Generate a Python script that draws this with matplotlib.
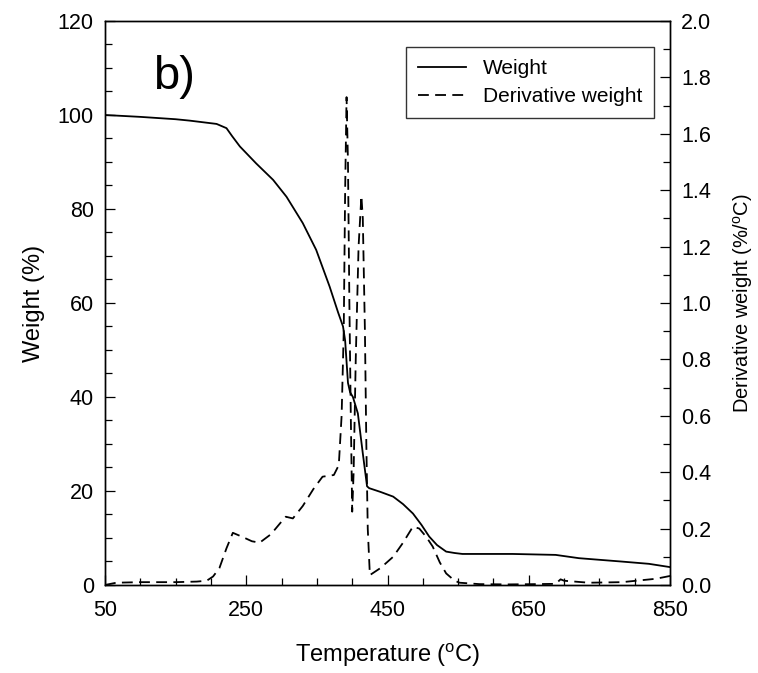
import matplotlib
matplotlib.use('Agg')
import matplotlib.pyplot as plt
from matplotlib.ticker import MultipleLocator
from matplotlib.lines import Line2D

plt.rcParams['font.family'] = ['Liberation Sans', 'DejaVu Sans']
plt.rcParams['mathtext.default'] = 'regular'

# weight curve (% vs temperature)
weight_temp = [50, 100, 150, 170, 208, 222, 230, 241, 264, 288, 307, 330, 349, 368,
               380, 387, 390, 394, 397, 401, 408, 415, 421, 424, 440, 458, 472, 486,
               498, 509, 520, 533, 545, 556, 627, 688, 721, 780, 820, 850]
weight = [100, 99.6, 99.1, 98.8, 98.1, 97.2, 95.5, 93.3, 89.7, 86.2, 82.6, 77, 71.3, 63.5,
          58, 55, 52, 43, 41, 40, 36.5, 28, 21, 20.6, 19.8, 18.8, 17.2, 15.2,
          12.8, 10.3, 8.5, 7.1, 6.8, 6.6, 6.6, 6.4, 5.7, 5.0, 4.5, 3.8]

# derivative weight curve (%/oC vs temperature)
deriv_temp = [50, 66, 100, 150, 180, 194, 203, 212, 222, 231, 245, 258, 269, 285, 300,
              306, 316, 330, 345, 358, 374, 381, 385, 388, 390, 392, 394, 396, 398,
              400, 402, 405, 409, 413, 415, 418, 420, 422, 425, 440, 458, 472, 486,
              495, 505, 514, 524, 533, 545, 552, 580, 620, 660, 688, 695, 700, 735,
              782, 830, 850]
deriv = [0.0, 0.008, 0.01, 0.01, 0.012, 0.015, 0.03, 0.06, 0.13, 0.185, 0.17, 0.155, 0.15,
         0.18, 0.225, 0.242, 0.236, 0.28, 0.34, 0.384, 0.39, 0.425, 0.6, 0.9, 1.4, 1.73,
         1.5, 1.0, 0.6, 0.26, 0.4, 0.8, 1.2, 1.38, 1.3, 0.9, 0.5, 0.2, 0.035, 0.06, 0.1,
         0.15, 0.207, 0.2, 0.17, 0.136, 0.08, 0.041, 0.015, 0.008, 0.003, 0.002, 0.003,
         0.004, 0.02, 0.015, 0.008, 0.01, 0.022, 0.032]

x_ticks = [50, 250, 450, 650, 850]

fig = plt.figure(figsize=(7.58, 6.73), dpi=100)
ax = fig.add_axes([0.1385, 0.1308, 0.7455, 0.838])
ax2 = ax.twinx()

dash = (6, 3.5)
ax.plot(weight_temp, weight, color='black', lw=1.3)
ax2.plot(deriv_temp, deriv, color='black', lw=1.3, dashes=dash)

ax.set_xlim(50, 850)
ax.set_ylim(0, 120)
ax2.set_ylim(0, 2.0)

ax.set_xticks(x_ticks)
ax.xaxis.set_minor_locator(MultipleLocator(50))
ax.yaxis.set_major_locator(MultipleLocator(20))
ax.yaxis.set_minor_locator(MultipleLocator(5))
ax2.yaxis.set_major_locator(MultipleLocator(0.2))
ax2.yaxis.set_minor_locator(MultipleLocator(0.1))
ax2.yaxis.set_major_formatter(lambda v, p: '%.1f' % v)

for a in (ax, ax2):
    a.tick_params(which='major', direction='in', length=7, width=0.9, labelsize=15.5, pad=8)
    a.tick_params(which='minor', direction='in', length=5, width=0.9)
    for s in a.spines.values():
        s.set_linewidth(1.0)
ax.tick_params(axis='x', which='both', top=False, pad=11)
ax2.tick_params(axis='y', which='both', left=False, right=True)

ax.set_xlabel('Temperature ($^{o}$C)', fontsize=17, labelpad=15)
ax.set_ylabel('Weight (%)', fontsize=17, labelpad=9)
ax2.set_ylabel('Derivative weight (%/$^{o}$C)', fontsize=14.5, labelpad=14)

ax.text(0.085, 0.88, 'b)', fontsize=34, transform=ax.transAxes)

handles = [Line2D([], [], color='black', lw=1.3),
           Line2D([], [], color='black', lw=1.3, dashes=dash)]
leg = ax.legend(handles, ['Weight', 'Derivative weight'], loc='upper right',
                bbox_to_anchor=(0.972, 0.954), fontsize=15, frameon=True, fancybox=False,
                edgecolor='black', handlelength=2.3, borderpad=0.58, labelspacing=0.44,
                borderaxespad=0, handletextpad=0.8)
leg.get_frame().set_linewidth(1.0)

fig.savefig('out.png', dpi=100)
